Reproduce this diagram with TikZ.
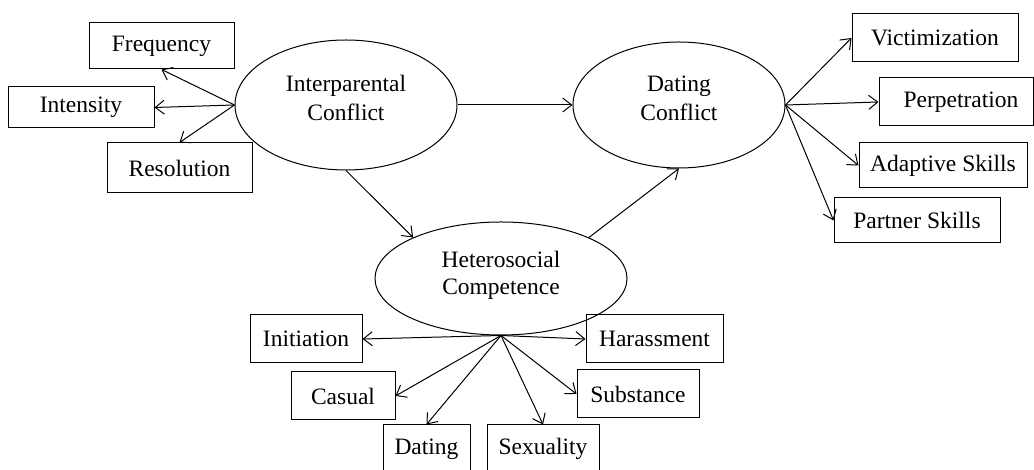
\documentclass[tikz,border=0pt]{standalone}
\usepackage{fontspec}
\setmainfont{Liberation Serif}
\usepackage{tikz}
\usetikzlibrary{arrows.meta,shapes.geometric}

\begin{document}
\begin{tikzpicture}[x=0.5pt, y=0.5pt,
  every node/.style={font=\fontsize{11.75}{14.5}\selectfont},
  latent/.style={draw, ellipse, line width=0.5pt},
  caption/.style={align=center, inner sep=0pt},
  indicator/.style={draw, rectangle, inner sep=0pt, minimum height=24pt, line width=0.5pt},
  path/.style={-{Straight Barb[length=4.5pt,width=7pt]}, line width=0.5pt}]

\useasboundingbox (0,0) rectangle (1034,470);

% Latent constructs
\node[latent, minimum width=111pt, minimum height=65pt] (ipc) at (346,365) {};
\node[caption] (ipc-text) at ([yshift=3.5pt]ipc.center) {Interparental\\Conflict};
\node[latent, minimum width=106pt, minimum height=63pt] (dc) at (679,365) {};
\node[caption] (dc-text) at ([yshift=3.5pt]dc.center) {Dating\\Conflict};
\node[latent, minimum width=126pt, minimum height=56.5pt] (hc) at (501,191.5) {};
\node[caption, font=\fontsize{11.75}{13.5}\selectfont] (hc-text) at ([yshift=1.5pt]hc.center) {Heterosocial\\Competence};

% Interparental conflict indicators
\node[indicator, minimum width=72.5pt, minimum height=23pt] (freq) at (161.5,424) {Frequency};
\node[indicator, minimum width=73pt, minimum height=20.5pt] (inten) at (81,362.5) {Intensity};
\node[indicator, minimum width=72.5pt, minimum height=25pt] (resol) at (179.5,302) {Resolution};

% Dating conflict indicators
\node[indicator, minimum width=83pt] (vict) at (935,432) {Victimization};
\node[indicator, minimum width=77pt] (perp) at (956,368) {\hspace{5pt}Perpetration};
\node[indicator, minimum width=84pt, minimum height=22.5pt] (adapt) at (943,304.5) {Adaptive Skills};
\node[indicator, minimum width=83pt, minimum height=22.5pt] (partner) at (917,249.5) {Partner Skills};

% Heterosocial competence indicators
\node[indicator, minimum width=56pt] (init) at (306,131) {Initiation};
\node[indicator, minimum width=68.5pt] (harass) at (654.5,131) {Harassment};
\node[indicator, minimum width=52pt] (casual) at (343,74) {Casual};
\node[indicator, minimum width=61pt] (subst) at (638,76) {Substance};
\node[indicator, minimum width=43.5pt] (dating) at (426.5,21) {Dating};
\node[indicator, minimum width=56pt] (sexual) at (543,21) {Sexuality};

% Structural paths
\draw[path] (ipc.east) -- (dc.west);
\draw[path] (ipc.south) -- (hc.155);
\draw[path] (hc.25) -- (dc.south);

% Measurement paths
\draw[path] (ipc.west) -- (freq.south);
\draw[path] (ipc.west) -- (inten.east);
\draw[path] (ipc.west) -- (resol.north);

\draw[path] (dc.east) -- (vict.west);
\draw[path] (dc.east) -- (perp.west);
\draw[path] (dc.east) -- (adapt.west);
\draw[path] (dc.east) -- (partner.west);

\draw[path] (hc.south) -- (init.east);
\draw[path] (hc.south) -- (harass.west);
\draw[path] (hc.south) -- (casual.east);
\draw[path] (hc.south) -- (subst.west);
\draw[path] (hc.south) -- (dating.north);
\draw[path] (hc.south) -- (sexual.north);

\end{tikzpicture}
\end{document}
